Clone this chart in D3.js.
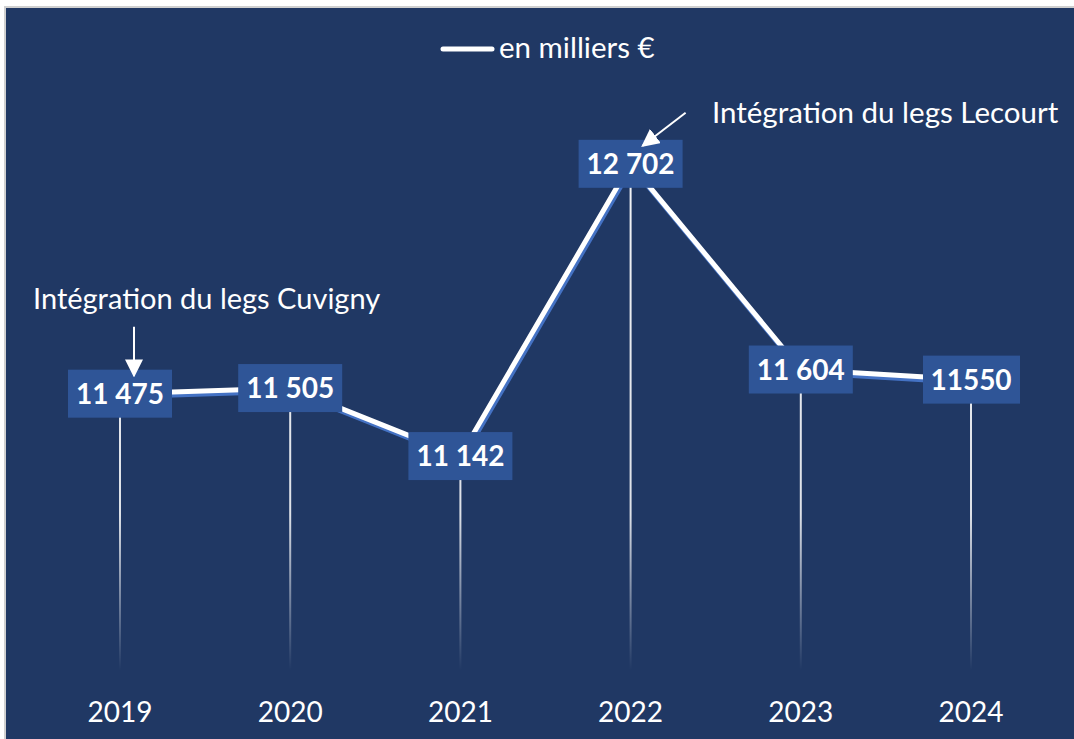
<!DOCTYPE html>
<html>
<head>
<meta charset="utf-8">
<script src="https://cdn.jsdelivr.net/npm/d3@7"></script>
<style>
  html, body { margin: 0; padding: 0; background: #ffffff; }
  svg { display: block; }
  text { font-family: Lato, "Open Sans", sans-serif; fill: #ffffff; }
</style>
</head>
<body>
<svg id="chart" width="1074" height="739"></svg>
<script>
//
// Data
//
var years = ['2019', '2020', '2021', '2022', '2023', '2024']
var values = [11475, 11505, 11142, 12702, 11604, 11550]
var labels = ['11 475', '11 505', '11 142', '12 702', '11 604', '11550']
var seriesName = 'en milliers €'

// colours
var colorBg = '#203864'
var colorBox = '#2f5597'
var colorShadow = '#4472c4'

var width = 1074, height = 739
var svg = d3.select('#chart')

// frame
svg.append('rect').attr('x', 4).attr('y', 6).attr('width', width).attr('height', height)
  .attr('fill', '#d0d0d0')
svg.append('rect').attr('x', 6).attr('y', 8).attr('width', width).attr('height', height)
  .attr('fill', colorBg)

var x = d3.scalePoint().domain(years).range([120, 971])
var y = d3.scaleLinear().domain([10000, 13000]).range([670, 108])

var defs = svg.append('defs')
var grad = defs.append('linearGradient').attr('id', 'drop')
  .attr('gradientUnits', 'userSpaceOnUse')
  .attr('x1', 0).attr('x2', 0).attr('y1', 150).attr('y2', y(10000))
grad.append('stop').attr('offset', 0).attr('stop-color', '#ffffff').attr('stop-opacity', 0.95)
grad.append('stop').attr('offset', 0.7).attr('stop-color', '#ffffff').attr('stop-opacity', 0.85)
grad.append('stop').attr('offset', 1).attr('stop-color', '#ffffff').attr('stop-opacity', 0)

var data = years.map(function (d, i) { return { year: d, value: values[i], label: labels[i] } })

// drop lines
svg.append('g').selectAll('line').data(data).join('line')
  .attr('x1', function (d) { return x(d.year) })
  .attr('x2', function (d) { return x(d.year) })
  .attr('y1', function (d) { return y(d.value) })
  .attr('y2', y(10000))
  .attr('stroke', 'url(#drop)')
  .attr('stroke-width', 2)

// line with shadow
var line = d3.line().x(function (d) { return x(d.year) }).y(function (d) { return y(d.value) })
svg.append('path').datum(data).attr('d', line)
  .attr('transform', 'translate(1.5,3)')
  .attr('fill', 'none').attr('stroke', colorShadow).attr('stroke-width', 5)
  .attr('stroke-linejoin', 'round')
svg.append('path').datum(data).attr('d', line)
  .attr('fill', 'none').attr('stroke', '#ffffff').attr('stroke-width', 5)
  .attr('stroke-linejoin', 'round')

// data labels
var lab = svg.append('g').selectAll('g').data(data).join('g')
  .attr('transform', function (d) { return 'translate(' + x(d.year) + ',' + y(d.value) + ')' })
lab.append('rect')
  .attr('x', function (d) { return d.label.indexOf(' ') < 0 ? -48 : -52 })
  .attr('width', function (d) { return d.label.indexOf(' ') < 0 ? 97 : 104 })
  .attr('y', -24).attr('height', 48)
  .attr('fill', colorBox)
lab.append('text')
  .attr('text-anchor', 'middle').attr('dy', 10)
  .attr('font-size', 28).attr('font-weight', 'bold')
  .text(function (d) { return d.label })

// x axis labels
svg.append('g').selectAll('text').data(years).join('text')
  .attr('x', function (d) { return x(d) })
  .attr('y', 722)
  .attr('text-anchor', 'middle')
  .attr('font-size', 28)
  .text(function (d) { return d })

// legend
svg.append('line').attr('x1', 443).attr('x2', 492).attr('y1', 49).attr('y2', 49)
  .attr('stroke', '#ffffff').attr('stroke-width', 5).attr('stroke-linecap', 'round')
svg.append('text').attr('x', 499).attr('y', 58).attr('font-size', 29.5).text(seriesName)

// annotations
defs.append('marker').attr('id', 'arrow')
  .attr('viewBox', '0 0 10 10').attr('refX', 9).attr('refY', 5)
  .attr('markerWidth', 9).attr('markerHeight', 9).attr('orient', 'auto-start-reverse')
  .attr('markerUnits', 'strokeWidth')
  .append('path').attr('d', 'M0,0 L10,5 L0,10 z').attr('fill', '#ffffff')

var px = x('2019'), py = y(11475)
svg.append('text').attr('x', 33).attr('y', py - 85).attr('font-size', 29)
  .text('Intégration du legs Cuvigny')
svg.append('line').attr('x1', px + 14).attr('x2', px + 14)
  .attr('y1', py - 67).attr('y2', py - 18)
  .attr('stroke', '#ffffff').attr('stroke-width', 2).attr('marker-end', 'url(#arrow)')

var qx = x('2022'), qy = y(12702)
svg.append('text').attr('x', 712).attr('y', qy - 41).attr('font-size', 29.5)
  .text('Intégration du legs Lecourt')
svg.append('line').attr('x1', qx + 55).attr('y1', qy - 51)
  .attr('x2', qx + 12).attr('y2', qy - 18)
  .attr('stroke', '#ffffff').attr('stroke-width', 2).attr('marker-end', 'url(#arrow)')
</script>
</body>
</html>
